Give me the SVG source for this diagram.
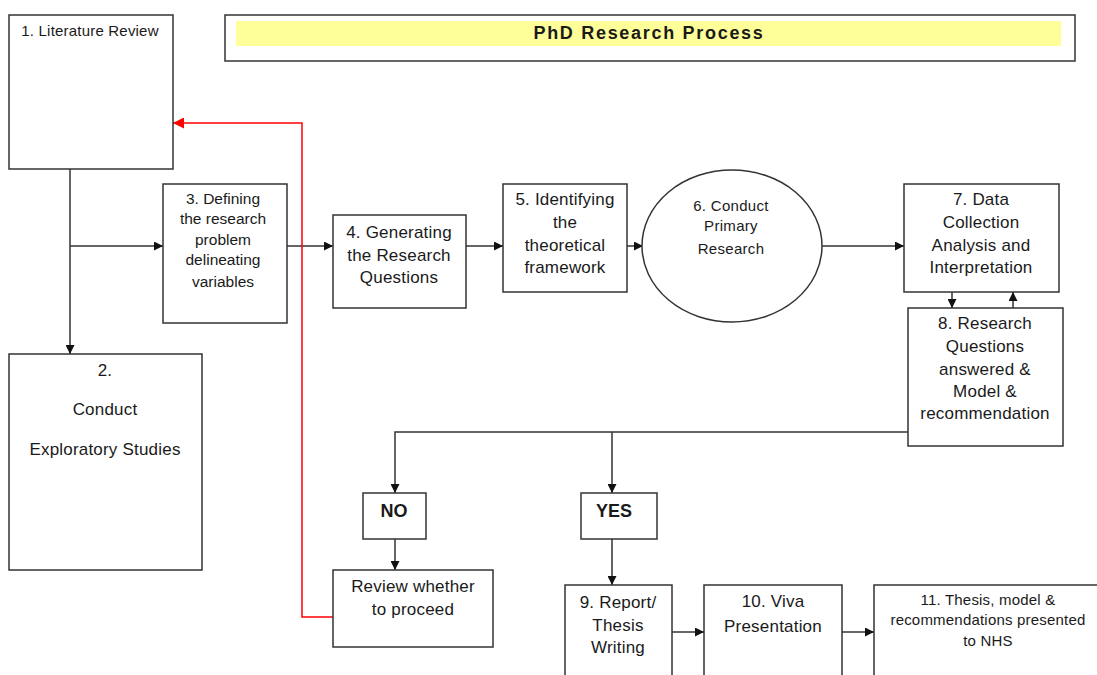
<svg xmlns="http://www.w3.org/2000/svg" width="1097" height="675" viewBox="0 0 1097 675">
  <style>
    .box { fill: #fff; stroke: #333; stroke-width: 1.5; }
    .t { font-family: "Liberation Sans", Arial, sans-serif; fill: #1a1a1a; text-anchor: middle; letter-spacing: 0.2px; }
    .s15 { font-size: 15px; }
    .s155 { font-size: 15.5px; letter-spacing: 0; }
    .s17 { font-size: 17px; }
    .b { font-weight: bold; font-size: 18px; letter-spacing: 0; }
    .ln { fill: none; stroke: #333; stroke-width: 1.5; }
    .red { fill: none; stroke: #f00; stroke-width: 1.5; }
  </style>
  <defs>
    <marker id="ah" viewBox="0 0 10 10" refX="10" refY="5" markerWidth="9" markerHeight="9" markerUnits="userSpaceOnUse" orient="auto">
      <path d="M0,0 L10,5 L0,10 Z" fill="#111"/>
    </marker>
    <marker id="ahr" viewBox="0 0 10 10" refX="10" refY="5" markerWidth="11" markerHeight="11" markerUnits="userSpaceOnUse" orient="auto">
      <path d="M0,0 L10,5 L0,10 Z" fill="#f00"/>
    </marker>
  </defs>
  <rect width="1097" height="675" fill="#fff"/>

  <!-- title banner -->
  <g id="title">
    <rect class="box" x="225" y="15" width="850" height="46"/>
    <rect x="236" y="21" width="825" height="25" fill="#ffff99"/>
    <text class="t b" x="649" y="39" style="letter-spacing:1.7px">PhD Research Process</text>
  </g>

  <!-- connectors -->
  <g id="connectors">
    <path class="ln" d="M70,169 V354" marker-end="url(#ah)"/>
    <path class="ln" d="M70,246 H163" marker-end="url(#ah)"/>
    <path class="ln" d="M287,246 H333" marker-end="url(#ah)"/>
    <path class="ln" d="M466,246 H503" marker-end="url(#ah)"/>
    <path class="ln" d="M627,246 H643" marker-end="url(#ah)"/>
    <path class="ln" d="M822,246 H904" marker-end="url(#ah)"/>
    <path class="ln" d="M952,292 V308" marker-end="url(#ah)"/>
    <path class="ln" d="M1013,308 V292" marker-end="url(#ah)"/>
    <path class="ln" d="M908,432 H395 V493" marker-end="url(#ah)"/>
    <path class="ln" d="M612,432 V493" marker-end="url(#ah)"/>
    <path class="ln" d="M395,539 V570" marker-end="url(#ah)"/>
    <path class="ln" d="M612,539 V585" marker-end="url(#ah)"/>
    <path class="ln" d="M672,632 H704" marker-end="url(#ah)"/>
    <path class="ln" d="M842,632 H874" marker-end="url(#ah)"/>
    <path class="red" d="M333,617 H302 V123 H173" marker-end="url(#ahr)"/>
  </g>

  <g id="n1">
    <rect class="box" x="9" y="15" width="164" height="154"/>
    <text class="t s15" x="90" y="36">1. Literature Review</text>
  </g>

  <g id="n2">
    <rect class="box" x="9" y="354" width="193" height="216"/>
    <text class="t s17" x="105" y="376">2.</text>
    <text class="t s17" x="105" y="415">Conduct</text>
    <text class="t s17" x="105" y="455">Exploratory Studies</text>
  </g>

  <g id="n3">
    <rect class="box" x="163" y="184" width="124" height="139"/>
    <text class="t s155" x="223" y="204">3. Defining</text>
    <text class="t s155" x="223" y="224">the research</text>
    <text class="t s155" x="223" y="245">problem</text>
    <text class="t s155" x="223" y="265">delineating</text>
    <text class="t s155" x="223" y="287">variables</text>
  </g>

  <g id="n4">
    <rect class="box" x="333" y="215" width="133" height="93"/>
    <text class="t s17" x="399" y="238">4.  Generating</text>
    <text class="t s17" x="399" y="261">the Research</text>
    <text class="t s17" x="399" y="283">Questions</text>
  </g>

  <g id="n5">
    <rect class="box" x="503" y="184" width="124" height="108"/>
    <text class="t s17" x="565" y="205">5. Identifying</text>
    <text class="t s17" x="565" y="228">the</text>
    <text class="t s17" x="565" y="251">theoretical</text>
    <text class="t s17" x="565" y="273">framework</text>
  </g>

  <g id="n6">
    <ellipse class="box" cx="732" cy="246" rx="90" ry="76"/>
    <text class="t s15" x="731" y="211" style="letter-spacing:0.3px">6. Conduct</text>
    <text class="t s15" x="731" y="231" style="letter-spacing:0.3px">Primary</text>
    <text class="t s15" x="731" y="254" style="letter-spacing:0.3px">Research</text>
  </g>

  <g id="n7">
    <rect class="box" x="904" y="184" width="155" height="108"/>
    <text class="t s17" x="981" y="205">7. Data</text>
    <text class="t s17" x="981" y="228">Collection</text>
    <text class="t s17" x="981" y="251">Analysis and</text>
    <text class="t s17" x="981" y="273">Interpretation</text>
  </g>

  <g id="n8">
    <rect class="box" x="908" y="308" width="155" height="138"/>
    <text class="t s17" x="985" y="329">8. Research</text>
    <text class="t s17" x="985" y="352">Questions</text>
    <text class="t s17" x="985" y="375">answered &amp;</text>
    <text class="t s17" x="985" y="397">Model &amp;</text>
    <text class="t s17" x="985" y="419">recommendation</text>
  </g>

  <g id="no">
    <rect class="box" x="363" y="493" width="63" height="46"/>
    <text class="t b" x="394" y="517">NO</text>
  </g>

  <g id="yes">
    <rect class="box" x="581" y="493" width="76" height="46"/>
    <text class="t b" x="614" y="517">YES</text>
  </g>

  <g id="review">
    <rect class="box" x="333" y="570" width="160" height="77"/>
    <text class="t s17" x="413" y="592">Review whether</text>
    <text class="t s17" x="413" y="615">to proceed</text>
  </g>

  <g id="n9">
    <rect class="box" x="565" y="585" width="107" height="100"/>
    <text class="t s17" x="618" y="608">9. Report/</text>
    <text class="t s17" x="618" y="631">Thesis</text>
    <text class="t s17" x="618" y="653">Writing</text>
  </g>

  <g id="n10">
    <rect class="box" x="704" y="585" width="138" height="100"/>
    <text class="t s17" x="773" y="607">10. Viva</text>
    <text class="t s17" x="773" y="632">Presentation</text>
  </g>

  <g id="n11">
    <rect class="box" x="874" y="585" width="240" height="100"/>
    <text class="t s15" x="988" y="605">11. Thesis, model &amp;</text>
    <text class="t s15" x="988" y="625">recommendations presented</text>
    <text class="t s15" x="988" y="646">to NHS</text>
  </g>
</svg>
